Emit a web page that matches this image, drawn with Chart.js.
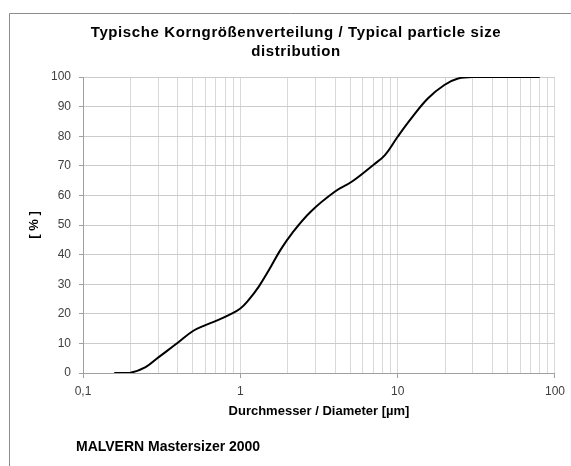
<!DOCTYPE html>
<html>
<head>
<meta charset="utf-8">
<title>Typische Korngrößenverteilung</title>
<script src="https://cdn.jsdelivr.net/npm/chart.js@4"></script>
<style>
  html, body { margin: 0; padding: 0; background: #fff; }
  #chart { display: block; }
</style>
</head>
<body>
<canvas id="chart" width="571" height="466"></canvas>
<script>
/* ======================================================
   Data
====================================================== */

const titleLines = ['Typische Korngrößenverteilung / Typical particle size', 'distribution'];
const xTitle     = 'Durchmesser / Diameter [µm]';
const yTitle     = '[ % ]';
const footNote   = 'MALVERN Mastersizer 2000';

// particle diameter in µm / cumulative volume in %
const diameters  = [0.158, 0.2, 0.25, 0.3, 0.4, 0.5, 0.6, 0.7, 0.85, 1.0, 1.13, 1.31, 1.52, 1.8, 2.13, 2.8, 4.0, 5.1, 7.0, 8.3, 10, 12.2, 15.6, 19.8, 24.2, 30.8, 80];
const cumulative = [0, 0.1, 2.0, 5.2, 10.2, 14.2, 16.2, 17.6, 19.6, 21.8, 24.7, 29.2, 34.8, 41.6, 47.2, 54.5, 61.3, 64.6, 70.3, 73.6, 79.8, 86.0, 92.8, 97.3, 99.5, 100, 100];

// log axis grid lines and the labelled decades
const xGridTicks   = [0.1, 0.2, 0.3, 0.4, 0.5, 0.6, 0.7, 0.8, 0.9,
                      1, 2, 3, 4, 5, 6, 7, 8, 9,
                      10, 20, 30, 40, 50, 60, 70, 80, 90, 100];
const xMajorTicks  = [0.1, 1, 10, 100];
const xMajorLabels = ['0,1', '1', '10', '100'];

const yMin = 0, yMax = 100, yStep = 10;


/* ======================================================
   Helpers
====================================================== */

const FONT = '"Liberation Sans", Arial, sans-serif';
const tickGray = '#404040';
const axisGray = '#a0a0a0';

function majorIndex(v) {
  return xMajorTicks.findIndex(m => Math.abs(m - v) < 1e-9);
}

// frame, title and foot note drawn on the canvas
const textPlugin = {
  id: 'sheetText',
  afterDraw(chart) {
    const ctx = chart.ctx;
    ctx.save();

    ctx.strokeStyle = '#8c8c8c';
    ctx.lineWidth = 1;
    ctx.beginPath();
    ctx.moveTo(9.5, 466);
    ctx.lineTo(9.5, 13.5);
    ctx.lineTo(571, 13.5);
    ctx.stroke();

    ctx.fillStyle = '#000';
    ctx.textAlign = 'center';
    ctx.textBaseline = 'alphabetic';
    ctx.font = 'bold 15px ' + FONT;
    if ('letterSpacing' in ctx) ctx.letterSpacing = '0.6px';
    ctx.fillText(titleLines[0], 296, 37);
    ctx.fillText(titleLines[1], 296, 56);
    if ('letterSpacing' in ctx) ctx.letterSpacing = '0px';

    ctx.textAlign = 'left';
    ctx.font = 'bold 14px ' + FONT;
    ctx.fillText(footNote, 76, 451);

    ctx.restore();
  }
};


/* ======================================================
   Chart
====================================================== */

new Chart(document.getElementById('chart').getContext('2d'), {
  type: 'line',
  data: {
    datasets: [{
      data: diameters.map((d, i) => ({ x: d, y: cumulative[i] })),
      borderColor: '#000',
      borderWidth: 2,
      pointRadius: 0,
      fill: false,
      tension: 0.4
    }]
  },
  options: {
    responsive: false,
    animation: false,
    devicePixelRatio: 1,
    layout: { padding: { top: 77, right: 13, bottom: 0, left: 0 } },
    plugins: {
      legend: { display: false },
      title: { display: false },
      tooltip: { enabled: false }
    },
    scales: {
      x: {
        type: 'logarithmic',
        min: 0.1,
        max: 100,
        afterBuildTicks: scale => {
          scale.ticks = xGridTicks.map(v => ({ value: v, major: majorIndex(v) >= 0 }));
        },
        afterFit: scale => { scale.height = 93; },
        ticks: {
          autoSkip: false,
          maxRotation: 0,
          padding: 6,
          color: tickGray,
          font: { family: FONT, size: 12 },
          callback: value => {
            const i = majorIndex(value);
            return i >= 0 ? xMajorLabels[i] : '';
          }
        },
        grid: {
          color: '#d9d9d9',
          tickLength: 5,
          tickColor: ctx => majorIndex(ctx.tick.value) >= 0 ? axisGray : 'rgba(0,0,0,0)'
        },
        border: { color: axisGray },
        title: {
          display: true,
          text: xTitle,
          color: '#000',
          font: { family: FONT, size: 13, weight: 'bold' },
          padding: { top: 0, bottom: 47 }
        }
      },
      y: {
        min: yMin,
        max: yMax,
        afterFit: scale => { scale.width = 83; },
        ticks: {
          stepSize: yStep,
          padding: 8,
          color: tickGray,
          font: { family: FONT, size: 12 }
        },
        grid: {
          color: '#cccccc',
          tickLength: 4,
          tickColor: axisGray
        },
        border: { color: axisGray },
        title: {
          display: true,
          text: yTitle,
          color: '#000',
          font: { family: FONT, size: 13, weight: 'bold' },
          padding: { top: 27, bottom: 0 }
        }
      }
    }
  },
  plugins: [textPlugin]
});
</script>
</body>
</html>
